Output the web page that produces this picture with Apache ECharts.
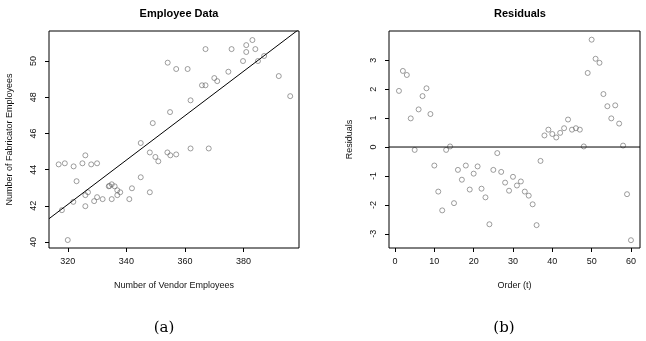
<!DOCTYPE html>
<html><head><meta charset="utf-8">
<script src="https://cdn.jsdelivr.net/npm/echarts@6/dist/echarts.min.js"></script>
<style>html,body{margin:0;padding:0;background:#fff}#c{width:646px;height:341px}</style>
</head><body><div id="c"></div>
<script>
// Panel (a): Employee data (vendor employees, fabricator employees)
const vendorEmployees = [354.1,357.0,360.9,367.0,375.9,379.8,380.9,380.9,383.0,384.0,384.9,387.0,392.0,395.9,370.0,371.0,374.8,365.8,367.0,361.9,354.9,349.0,344.9,361.9,368.1,
  316.9,319.0,322.0,326.0,325.0,328.0,330.0,323.0,348.0,349.9,350.9,354.0,355.0,357.0,344.9,341.9,348.0,334.0,334.2,335.0,336.0,336.9,337.9,336.9,326.9,326.0,330.0,329.0,331.9,335.0,341.0,321.9,326.0,318.0,320.0];
const fabricatorEmployees = [49.91,49.56,49.56,50.66,50.66,50.00,50.88,50.50,51.16,50.66,50.00,50.28,49.17,48.06,49.06,48.89,49.41,48.66,48.66,47.83,47.18,46.57,45.47,45.17,45.17,
  44.29,44.35,44.18,44.79,44.35,44.29,44.35,43.36,44.95,44.70,44.46,44.95,44.79,44.84,43.58,42.97,42.75,43.08,43.10,43.19,43.08,42.86,42.75,42.59,42.75,42.59,42.48,42.26,42.37,42.37,42.37,42.22,41.98,41.76,40.11];
const fitIntercept = 2.81, fitSlope = 0.1227;
const xTicksA = [320,340,360,380];
const yTicksA = [40,42,44,46,48,50];
const xRangeA = [313.6, 398.9], yRangeA = [39.67, 51.66];

// Panel (b): Residuals in time order t = 1..60
const orderT = Array.from({length:60},(_,i)=>i+1);
const residuals = [1.94,2.63,2.49,0.99,-0.10,1.30,1.76,2.03,1.14,-0.64,
  -1.54,-2.19,-0.10,0.02,-1.94,-0.79,-1.13,-0.64,-1.47,-0.92,
  -0.67,-1.44,-1.74,-2.67,-0.79,-0.21,-0.86,-1.23,-1.51,-1.03,
  -1.33,-1.19,-1.54,-1.68,-1.98,-2.70,-0.48,0.40,0.60,0.45,
  0.33,0.49,0.65,0.95,0.60,0.65,0.60,0.02,2.56,3.71,
  3.05,2.91,1.83,1.41,0.99,1.44,0.81,0.05,-1.63,-3.22];
const xTicksB = [0,10,20,30,40,50,60];
const yTicksB = [-3,-2,-1,0,1,2,3];
const xRangeB = [-1.53, 62.3], yRangeB = [-3.49, 4.01];

const FONT = 'Liberation Sans, Arial, sans-serif';
const ptColor = '#666';

function xAxisCfg(idx, range, ticks, name){
  return {gridIndex: idx, type:'value', min: range[0], max: range[1], name: name,
    nameLocation:'middle', nameGap: 33,
    nameTextStyle:{fontFamily:FONT, fontSize:9, color:'#111'},
    axisLine:{show:false, onZero:false}, splitLine:{show:false},
    axisTick:{show:true, inside:false, length:4, customValues: ticks, lineStyle:{color:'#000', width:1}},
    axisLabel:{customValues: ticks, fontFamily:FONT, fontSize:9, color:'#111', margin:9}};
}
function yAxisCfg(idx, range, ticks, name){
  return {gridIndex: idx, type:'value', min: range[0], max: range[1], name: name,
    nameLocation:'middle', nameGap: 35,
    nameTextStyle:{fontFamily:FONT, fontSize:9, color:'#111'},
    axisLine:{show:false, onZero:false}, splitLine:{show:false},
    axisTick:{show:true, inside:false, length:4, customValues: ticks, lineStyle:{color:'#000', width:1}},
    axisLabel:{customValues: ticks, rotate:90, fontFamily:FONT, fontSize:9, color:'#111', margin:11}};
}

const chart = echarts.init(document.getElementById('c'), null, {renderer:'canvas'});
chart.setOption({
  animation:false,
  backgroundColor:'#fff',
  title:[
    {text:'Employee Data', left:174, top:3, textAlign:'center', textStyle:{fontFamily:FONT, fontSize:11, fontWeight:'bold', color:'#000'}},
    {text:'Residuals', left:515, top:3, textAlign:'center', textStyle:{fontFamily:FONT, fontSize:11, fontWeight:'bold', color:'#000'}},
    {text:'(a)', left:159, top:316, textAlign:'center', textStyle:{fontFamily:'DejaVu Serif, Liberation Serif, serif', fontSize:15, fontWeight:'normal', color:'#000'}},
    {text:'(b)', left:499, top:316, textAlign:'center', textStyle:{fontFamily:'DejaVu Serif, Liberation Serif, serif', fontSize:15, fontWeight:'normal', color:'#000'}}
  ],
  grid:[
    {left:49, top:31, width:250, height:217, show:true, borderColor:'#000', borderWidth:1, backgroundColor:'transparent'},
    {left:389, top:31, width:251, height:217, show:true, borderColor:'#000', borderWidth:1, backgroundColor:'transparent'}
  ],
  xAxis:[ xAxisCfg(0, xRangeA, xTicksA, 'Number of Vendor Employees'), xAxisCfg(1, xRangeB, xTicksB, 'Order (t)') ],
  yAxis:[ yAxisCfg(0, yRangeA, yTicksA, 'Number of Fabricator Employees'), yAxisCfg(1, yRangeB, yTicksB, 'Residuals') ],
  series:[
    {type:'scatter', xAxisIndex:0, yAxisIndex:0, symbol:'circle', symbolSize:5,
      itemStyle:{color:'rgba(255,255,255,0)', borderColor:ptColor, borderWidth:0.8},
      data: vendorEmployees.map((v,i)=>[v, fabricatorEmployees[i]])},
    {type:'line', xAxisIndex:0, yAxisIndex:0, symbol:'none', clip:true,
      lineStyle:{color:'#000', width:1},
      data: xRangeA.map(x=>[x, fitIntercept + fitSlope*x])},
    {type:'scatter', xAxisIndex:1, yAxisIndex:1, symbol:'circle', symbolSize:5,
      itemStyle:{color:'rgba(255,255,255,0)', borderColor:ptColor, borderWidth:0.8},
      data: orderT.map((t,i)=>[t, residuals[i]])},
    {type:'line', xAxisIndex:1, yAxisIndex:1, symbol:'none', clip:true,
      lineStyle:{color:'#000', width:1},
      data: xRangeB.map(x=>[x, 0])}
  ]
});
</script></body></html>
